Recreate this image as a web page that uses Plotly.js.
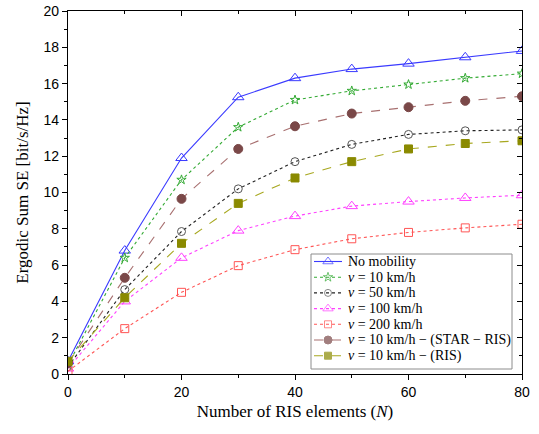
<!DOCTYPE html>
<html><head><meta charset="utf-8">
<script src="https://cdn.plot.ly/plotly-3.0.1.min.js"></script>
<style>html,body{margin:0;padding:0;background:#fff}#c{width:539px;height:434px}</style>
</head><body><div id="c"></div>
<script>
const N = [0, 10, 20, 30, 40, 50, 60, 70, 80];
const noMobility = [0.7, 6.8, 11.9, 15.25, 16.3, 16.8, 17.1, 17.45, 17.8];
const v10 = [0.5, 6.4, 10.7, 13.6, 15.1, 15.6, 15.95, 16.3, 16.55];
const v50 = [0.4, 4.65, 7.85, 10.2, 11.7, 12.65, 13.2, 13.4, 13.45];
const v100 = [0.3, 4.0, 6.4, 7.9, 8.7, 9.25, 9.5, 9.7, 9.85];
const v200 = [0.15, 2.5, 4.5, 5.97, 6.85, 7.45, 7.8, 8.05, 8.25];
const v10Star = [0.6, 5.3, 9.65, 12.4, 13.65, 14.35, 14.7, 15.05, 15.3];
const v10Ris = [0.7, 4.2, 7.2, 9.4, 10.8, 11.7, 12.4, 12.7, 12.85];

const names = ['No mobility', '<i>v</i> = 10 km/h', '<i>v</i> = 50 km/h', '<i>v</i> = 100 km/h',
  '<i>v</i> = 200 km/h', '<i>v</i> = 10 km/h − (STAR − RIS)', '<i>v</i> = 10 km/h − (RIS)'];
const seriesY = [noMobility, v10, v50, v100, v200, v10Star, v10Ris];

// styles
const styles = [
  {lc: '#3a3aff', dash: 'solid', sym: 'triangle-up-open', mc: '#3a3aff', size: 10},
  {lc: '#33aa33', dash: 'dot', sym: 'star-open', mc: '#33aa33', size: 7},
  {lc: '#222222', dash: 'dot', sym: 'circle-open', mc: '#555555', size: 8},
  {lc: '#ff40ff', dash: 'dot', sym: 'triangle-up-open', mc: '#ff40ff', size: 10},
  {lc: '#ff5555', dash: 'dot', sym: 'square-open', mc: '#ff5555', size: 8},
  {lc: '#a87070', dash: 'dash', sym: 'circle', mc: '#7a4848', size: 9},
  {lc: '#a8a820', dash: 'dash', sym: 'square', mc: '#8a8a00', size: 8}
];

// plot-area geometry (pixels)
const W = 539, H = 434, ML = 68, MR = 17, MT = 11, MB = 60;
const PW = W - ML - MR, PH = H - MT - MB;
const px2x = p => (p - ML) / PW;
const px2y = p => (H - MB - p) / PH;

const data = [];
seriesY.forEach((y, i) => {
  const s = styles[i];
  data.push({x: N, y: y, name: names[i], mode: 'lines+markers', showlegend: false,
    line: {color: s.lc, width: 1.1, dash: s.dash},
    marker: {symbol: s.sym, size: s.size, color: s.mc, line: {color: s.mc, width: 1}}});
});
data.push({x: [0], y: [0], xaxis: 'x2', yaxis: 'y2', showlegend: false, mode: 'markers', marker: {opacity: 0}, hoverinfo: 'skip'});

// custom legend (box, samples, labels)
const legBox = {x0: 311, x1: 512, y0: 254, y1: 369};
const rowTop = 261.5, rowStep = 15.7, sampleX0 = 314, sampleX1 = 342, textX = 346;
const shapes = [{type: 'rect', xref: 'paper', yref: 'paper', layer: 'below',
  x0: px2x(legBox.x0), x1: px2x(legBox.x1), y0: px2y(legBox.y1), y1: px2y(legBox.y0),
  line: {color: '#8c8c8c', width: 1}, fillcolor: '#fff'}];
const annotations = [];
names.forEach((nm, i) => {
  const s = styles[i];
  const yy = px2y(rowTop + i * rowStep);
  data.push({x: [px2x(sampleX0), px2x((sampleX0 + sampleX1) / 2), px2x(sampleX1)], y: [yy, yy, yy],
    xaxis: 'x3', yaxis: 'y3', mode: 'lines+markers', showlegend: false, hoverinfo: 'skip', cliponaxis: false,
    line: {color: s.lc, width: 1.1, dash: s.dash},
    marker: {symbol: s.sym, size: [0, Math.max(s.size - 1, 7), 0], color: s.mc, line: {color: s.mc, width: 1}}});
  annotations.push({xref: 'paper', yref: 'paper', x: px2x(textX), y: yy, xanchor: 'left', yanchor: 'middle',
    text: nm, showarrow: false, font: {family: 'Times New Roman', size: 14, color: '#000'}});
});

const tickFont = {family: 'Arial', size: 14, color: '#000'};
const serif = 'Times New Roman';
const titleFont = {family: serif, size: 17, color: '#000'};
const layout = {
  width: W, height: H,
  margin: {l: ML, r: MR, t: MT, b: MB},
  paper_bgcolor: '#fff', plot_bgcolor: '#fff',
  showlegend: false,
  shapes: shapes, annotations: annotations,
  xaxis: {range: [0, 80], dtick: 20, tick0: 0, ticks: 'outside', ticklen: 5, tickcolor: '#000',
    showline: true, linecolor: '#000', linewidth: 1.2, showgrid: false, zeroline: false,
    tickfont: tickFont, minor: {dtick: 10, ticks: 'outside', ticklen: 3, tickcolor: '#000'},
    title: {text: 'Number of RIS elements (<i>N</i>)', font: titleFont, standoff: 6}},
  yaxis: {range: [0, 20], dtick: 2, tick0: 0, ticks: 'outside', ticklen: 5, tickcolor: '#000',
    showline: true, linecolor: '#000', linewidth: 1.2, showgrid: false, zeroline: false,
    tickfont: tickFont, minor: {dtick: 1, ticks: 'outside', ticklen: 3, tickcolor: '#000'},
    title: {text: 'Ergodic Sum SE [bit/s/Hz]', font: titleFont, standoff: 10}},
  xaxis2: {overlaying: 'x', side: 'top', range: [0, 80], dtick: 20, tick0: 0,
    ticks: 'inside', ticklen: 5, tickcolor: '#000', showticklabels: false, showline: true,
    linecolor: '#000', linewidth: 1.2, showgrid: false, zeroline: false,
    minor: {dtick: 10, ticks: 'inside', ticklen: 3, tickcolor: '#000'}},
  yaxis2: {overlaying: 'y', side: 'right', range: [0, 20], dtick: 2, tick0: 0,
    ticks: 'inside', ticklen: 5, tickcolor: '#000', showticklabels: false, showline: true,
    linecolor: '#000', linewidth: 1.2, showgrid: false, zeroline: false,
    minor: {dtick: 1, ticks: 'inside', ticklen: 3, tickcolor: '#000'}},
  xaxis3: {overlaying: 'x', range: [0, 1], visible: false, fixedrange: true},
  yaxis3: {overlaying: 'y', range: [0, 1], visible: false, fixedrange: true}
};
Plotly.newPlot('c', data, layout, {staticPlot: true});
</script></body></html>
